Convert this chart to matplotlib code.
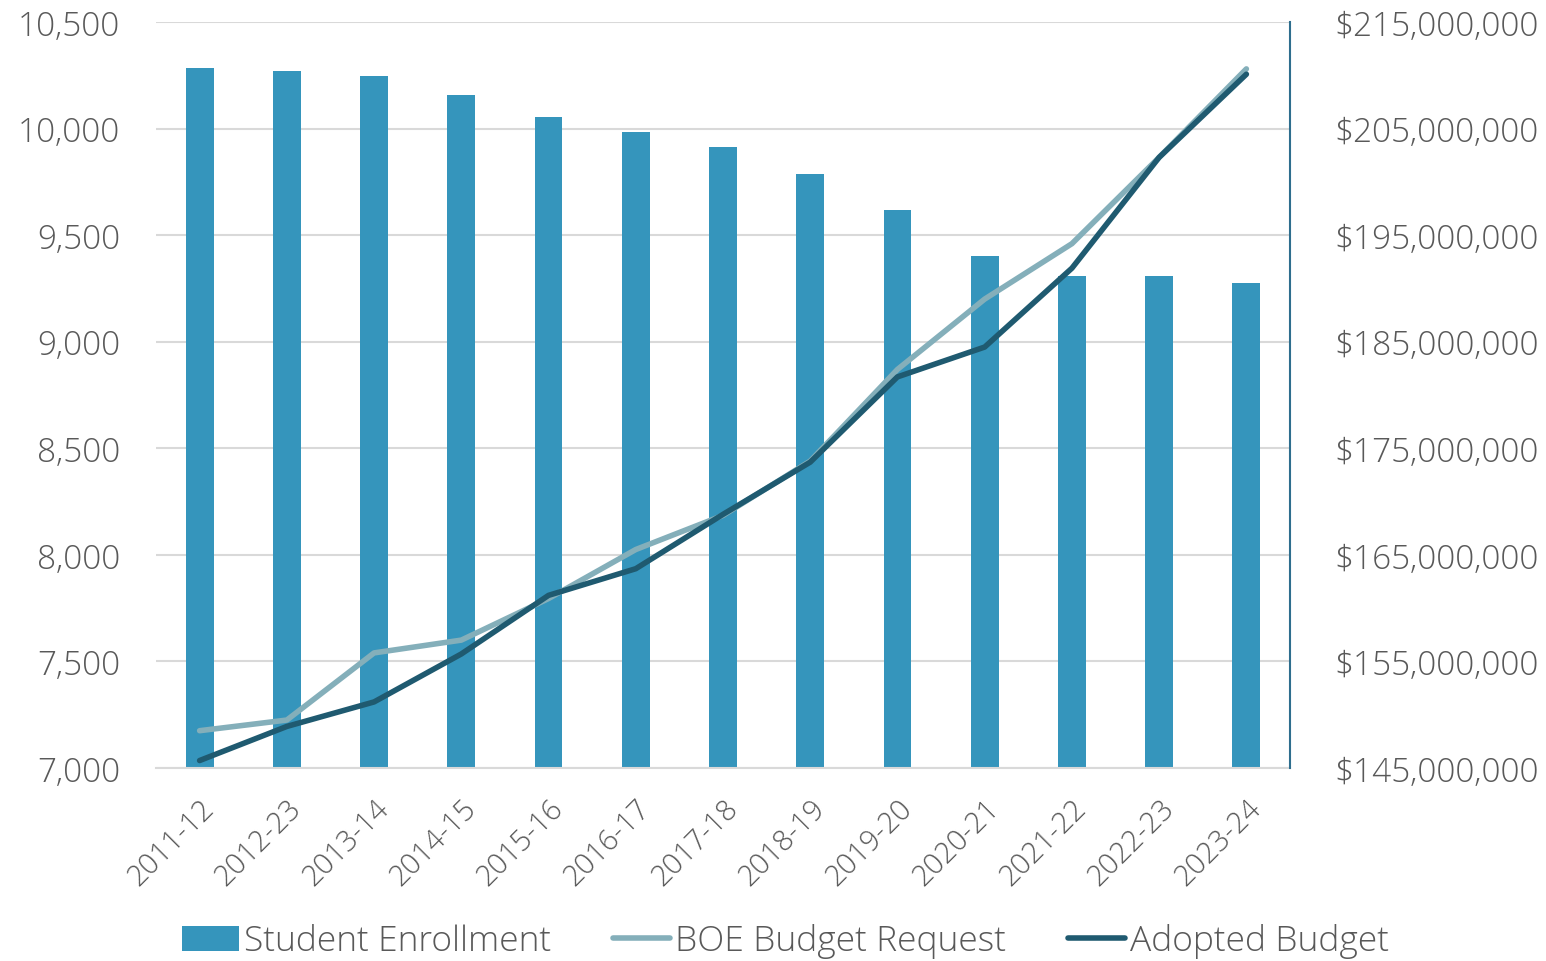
import matplotlib
matplotlib.use('Agg')
import matplotlib.pyplot as plt
import matplotlib.ticker as mticker
import numpy as np

plt.rcParams['font.family'] = ['Open Sans', 'DejaVu Sans']
plt.rcParams['font.weight'] = 'light'

years = ['2011-12', '2012-23', '2013-14', '2014-15', '2015-16', '2016-17', '2017-18',
         '2018-19', '2019-20', '2020-21', '2021-22', '2022-23', '2023-24']
enrollment = [10284, 10270, 10247, 10158, 10054, 9984, 9914, 9787, 9618, 9402, 9308, 9308, 9275]
boe_request = [148.5, 149.5, 155.8, 157.0, 160.9, 165.5, 168.7, 173.8, 182.4, 189.0, 194.2, 202.3, 210.6]
adopted = [145.7, 148.9, 151.2, 155.7, 161.2, 163.7, 168.8, 173.7, 181.7, 184.5, 191.9, 202.3, 210.1]
boe_request = [v * 1e6 for v in boe_request]
adopted = [v * 1e6 for v in adopted]
budget_ticks = [145e6, 155e6, 165e6, 175e6, 185e6, 195e6, 205e6, 215e6]

grey = '#595959'
fig = plt.figure(figsize=(15.46, 9.62), dpi=100)
ax = fig.add_axes([156 / 1546, 1 - 769 / 962, (1290 - 156) / 1546, (769 - 23) / 962])
x = np.arange(len(years))

ax.bar(x, enrollment, width=0.32, color='#3595BC', label='Student Enrollment', zorder=2)
ax.set_ylim(7000, 10500)
ax.set_xlim(-0.5, len(years) - 0.5)
ax.yaxis.set_major_locator(mticker.MultipleLocator(500))
ax.yaxis.set_major_formatter(mticker.StrMethodFormatter('{x:,.0f}'))
ax.grid(axis='y', color='#D9D9D9', linewidth=1.5, zorder=0)
ax.set_axisbelow(True)
for s in ['left', 'top', 'right']:
    ax.spines[s].set_visible(False)
ax.spines['bottom'].set_color('#D9D9D9')
ax.spines['bottom'].set_linewidth(1.5)
ax.tick_params(axis='y', length=0, labelsize=24, labelcolor=grey, pad=26)
ax.tick_params(axis='x', length=0, labelsize=21, labelcolor=grey, pad=18)
ax.set_xticks(x)
ax.set_xticklabels(years, rotation=45, ha='right', rotation_mode='anchor')

ax2 = ax.twinx()
ax2.plot(x, boe_request, color='#84AFBA', linewidth=4, solid_capstyle='round', label='BOE Budget Request', zorder=3)
ax2.plot(x, adopted, color='#1F5A70', linewidth=4, solid_capstyle='round', label='Adopted Budget', zorder=4)
ax2.set_ylim(145e6, 215e6)
ax2.set_yticks(budget_ticks)
ax2.yaxis.set_major_formatter(mticker.StrMethodFormatter('${x:,.0f}'))
for s in ['left', 'top', 'bottom']:
    ax2.spines[s].set_visible(False)
ax2.spines['right'].set_color('#2E6E8E')
ax2.spines['right'].set_linewidth(1.5)
ax2.tick_params(axis='y', length=0, labelsize=24, labelcolor=grey, pad=32)

h1, l1 = ax.get_legend_handles_labels()
h2, l2 = ax2.get_legend_handles_labels()
fig.legend(h1 + h2, l1 + l2, loc='center', bbox_to_anchor=(0.508, 1 - 942 / 962), ncol=3,
           frameon=False, fontsize=25.5, labelcolor=grey, handlelength=1.6, handletextpad=0.15,
           columnspacing=1.75)

fig.savefig('out.png', dpi=100)
